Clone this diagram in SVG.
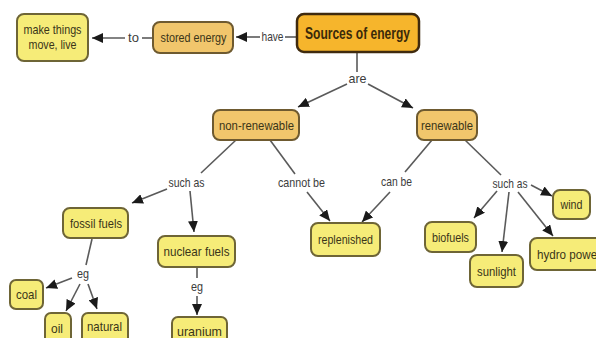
<svg xmlns="http://www.w3.org/2000/svg" width="596" height="338" viewBox="0 0 596 338">
<defs>
<marker id="ah" markerUnits="userSpaceOnUse" markerWidth="11" markerHeight="10" refX="11" refY="5" orient="auto">
<path d="M0,0 L11,5 L0,10 z" fill="#1a1a1a"/>
</marker>
<style>
.y{fill:#f6ec78;stroke:#6e6536;stroke-width:2}
.o{fill:#f1c66c;stroke:#6e5a30;stroke-width:2}
.s{fill:#f6b52c;stroke:#3f2a0e;stroke-width:2.5}
.t{font-family:"Liberation Sans",Arial,sans-serif;font-size:13.5px;fill:#3a3518;text-anchor:middle}
.b{font-family:"Liberation Sans",Arial,sans-serif;font-size:16px;font-weight:bold;fill:#3a2a0a;text-anchor:middle}
.l{font-family:"Liberation Sans",Arial,sans-serif;font-size:13px;fill:#3c3c3c;text-anchor:middle}
.c line{stroke:#5a5a5a;stroke-width:1.6}
.a{marker-end:url(#ah)}
</style>
</defs>
<rect width="596" height="338" fill="#fff"/>
<g class="c" id="connectors">
<line x1="297" y1="37" x2="285" y2="37"/>
<line class="a" x1="260" y1="37" x2="236" y2="37"/>
<line x1="153" y1="38" x2="142" y2="38"/>
<line class="a" x1="125" y1="38" x2="92" y2="38"/>
<line x1="357" y1="52" x2="357" y2="72"/>
<line class="a" x1="347" y1="84" x2="298" y2="107"/>
<line class="a" x1="368" y1="84" x2="413" y2="108"/>
<line x1="236" y1="140" x2="201" y2="173"/>
<line class="a" x1="167" y1="189" x2="132" y2="203"/>
<line class="a" x1="190" y1="191" x2="194" y2="232"/>
<line x1="270" y1="140" x2="295" y2="174"/>
<line class="a" x1="307" y1="192" x2="330" y2="221"/>
<line x1="432" y1="140" x2="405" y2="172"/>
<line class="a" x1="390" y1="192" x2="362" y2="222"/>
<line x1="465" y1="140" x2="501" y2="175"/>
<line class="a" x1="497" y1="191" x2="474" y2="218"/>
<line class="a" x1="509" y1="192" x2="502" y2="252"/>
<line class="a" x1="518" y1="192" x2="553" y2="236"/>
<line class="a" x1="531" y1="185" x2="552" y2="196"/>
<line x1="92" y1="239" x2="86" y2="265"/>
<line class="a" x1="72" y1="278" x2="46" y2="288"/>
<line class="a" x1="80" y1="284" x2="66" y2="311"/>
<line class="a" x1="88" y1="284" x2="97" y2="309"/>
<line x1="197" y1="268" x2="197" y2="278"/>
<line class="a" x1="197" y1="296" x2="197" y2="315"/>
</g>
<g id="labels">
<text class="l" x="133.5" y="42">to</text>
<text class="l" x="272.5" y="41" textLength="22" lengthAdjust="spacingAndGlyphs">have</text>
<text class="l" x="357.5" y="83" textLength="18" lengthAdjust="spacingAndGlyphs">are</text>
<text class="l" x="186.5" y="187" textLength="36" lengthAdjust="spacingAndGlyphs">such as</text>
<text class="l" x="301.5" y="187" textLength="47" lengthAdjust="spacingAndGlyphs">cannot be</text>
<text class="l" x="396.5" y="186" textLength="31" lengthAdjust="spacingAndGlyphs">can be</text>
<text class="l" x="510" y="188" textLength="35" lengthAdjust="spacingAndGlyphs">such as</text>
<text class="l" x="83" y="278" textLength="12" lengthAdjust="spacingAndGlyphs">eg</text>
<text class="l" x="197" y="291" textLength="12" lengthAdjust="spacingAndGlyphs">eg</text>
</g>
<g id="n-make"><rect class="y" x="17" y="14" width="71" height="47" rx="7"/><text class="t" x="52.5" y="34" textLength="58" lengthAdjust="spacingAndGlyphs">make things</text><text class="t" x="52.5" y="49" textLength="48" lengthAdjust="spacingAndGlyphs">move, live</text></g>
<g id="n-stored"><rect class="o" x="153" y="22" width="80" height="31" rx="7"/><text class="t" x="193.5" y="42" textLength="66" lengthAdjust="spacingAndGlyphs">stored energy</text></g>
<g id="n-sources"><rect class="s" x="297" y="14" width="122" height="38" rx="7"/><text class="b" x="357.5" y="38.5" textLength="105" lengthAdjust="spacingAndGlyphs">Sources of energy</text></g>
<g id="n-nonrenew"><rect class="o" x="213" y="110" width="86" height="30" rx="7"/><text class="t" x="256.5" y="129.5" textLength="75" lengthAdjust="spacingAndGlyphs">non-renewable</text></g>
<g id="n-renew"><rect class="o" x="417" y="110" width="60" height="30" rx="7"/><text class="t" x="447" y="129.5" textLength="52" lengthAdjust="spacingAndGlyphs">renewable</text></g>
<g id="n-fossil"><rect class="y" x="63" y="208" width="65" height="30" rx="7"/><text class="t" x="96" y="227.5" textLength="52" lengthAdjust="spacingAndGlyphs">fossil fuels</text></g>
<g id="n-nuclear"><rect class="y" x="158" y="236" width="77" height="31" rx="7"/><text class="t" x="196.5" y="256" textLength="66" lengthAdjust="spacingAndGlyphs">nuclear fuels</text></g>
<g id="n-coal"><rect class="y" x="10" y="280" width="33" height="29" rx="6"/><text class="t" x="26.5" y="299" textLength="21" lengthAdjust="spacingAndGlyphs">coal</text></g>
<g id="n-oil"><rect class="y" x="45" y="313" width="26" height="32" rx="6"/><text class="t" x="57" y="333" textLength="12" lengthAdjust="spacingAndGlyphs">oil</text></g>
<g id="n-natural"><rect class="y" x="82" y="313" width="46" height="32" rx="6"/><text class="t" x="104.5" y="331" textLength="35" lengthAdjust="spacingAndGlyphs">natural</text></g>
<g id="n-uranium"><rect class="y" x="172" y="317" width="55" height="30" rx="6"/><text class="t" x="199.5" y="336" textLength="45" lengthAdjust="spacingAndGlyphs">uranium</text></g>
<g id="n-replenished"><rect class="y" x="311" y="223" width="69" height="33" rx="7"/><text class="t" x="345.5" y="244" textLength="55" lengthAdjust="spacingAndGlyphs">replenished</text></g>
<g id="n-biofuels"><rect class="y" x="425" y="222" width="51" height="30" rx="7"/><text class="t" x="450.5" y="241.5" textLength="37" lengthAdjust="spacingAndGlyphs">biofuels</text></g>
<g id="n-sunlight"><rect class="y" x="470" y="255" width="53" height="32" rx="7"/><text class="t" x="496.5" y="275.5" textLength="39" lengthAdjust="spacingAndGlyphs">sunlight</text></g>
<g id="n-hydro"><rect class="y" x="530" y="238" width="80" height="32" rx="7"/><text class="t" x="537" y="258.5" style="text-anchor:start" textLength="64" lengthAdjust="spacingAndGlyphs">hydro power</text></g>
<g id="n-wind"><rect class="y" x="553" y="190" width="37" height="29" rx="7"/><text class="t" x="571.5" y="209" textLength="22" lengthAdjust="spacingAndGlyphs">wind</text></g>
</svg>
